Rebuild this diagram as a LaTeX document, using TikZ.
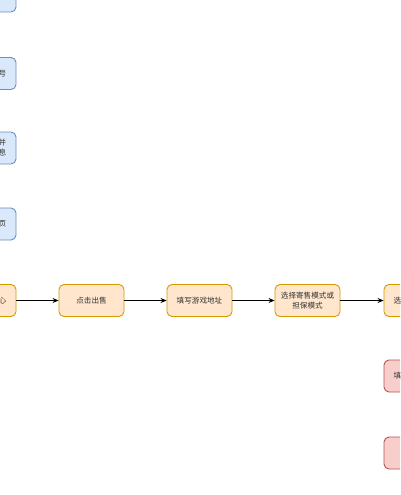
\documentclass[tikz,border=0pt]{standalone}
\usepackage{fontspec}
\newfontfamily\cjk{Noto Sans CJK SC}
\usetikzlibrary{arrows.meta}
\definecolor{bfill}{HTML}{DAE8FC}\definecolor{bline}{HTML}{6C8EBF}
\definecolor{ofill}{HTML}{FFE6CC}\definecolor{oline}{HTML}{D79B00}
\definecolor{pfill}{HTML}{F8CECC}\definecolor{pline}{HTML}{B85450}
\tikzset{
  box/.style={rectangle, rounded corners=5pt, minimum width=65pt, minimum height=32pt, inner sep=1pt, line width=0.9pt, align=center, font=\cjk\fontsize{7.6}{10}\selectfont, text=black!80},
  bluebox/.style={box, fill=bfill, draw=bline},
  orangebox/.style={box, fill=ofill, draw=oline},
  pinkbox/.style={box, fill=pfill, draw=pline},
  flow/.style={-{Stealth[length=6pt,width=5pt]}, line width=0.8pt, black}
}
\begin{document}
\begin{tikzpicture}[x=1pt,y=-1pt]
\useasboundingbox (0,0) rectangle (400,495);
\fill[white] (0,0) rectangle (400,495);
\clip (0,0) rectangle (400,495);
\node[bluebox] (b1) at (-16.5,-4) {};
\node[bluebox] (b2) at (-16.5,73.5) {注册登录账号};
\node[bluebox] (b3) at (-16.5,148) {上传身份证并\\填写个人信息};
\node[bluebox] (b4) at (-16.5,224) {进入交易首页};
\node[orangebox] (o1) at (-16.5,300.5) {进入个人中心};
\node[orangebox] (o2) at (91.5,300.5) {点击出售};
\node[orangebox] (o3) at (199.5,300.5) {填写游戏地址};
\node[orangebox] (o4) at (307.5,300.5) {选择寄售模式或\\担保模式};
\node[orangebox] (o5) at (416.5,300.5) {选择交易方式};
\node[pinkbox] (p1) at (416.5,376) {填写寄售信息};
\node[pinkbox] (p2) at (416.5,453) {};
\draw[flow] (o1) -- (o2);
\draw[flow] (o2) -- (o3);
\draw[flow] (o3) -- (o4);
\draw[flow] (o4) -- (o5);
\end{tikzpicture}
\end{document}
